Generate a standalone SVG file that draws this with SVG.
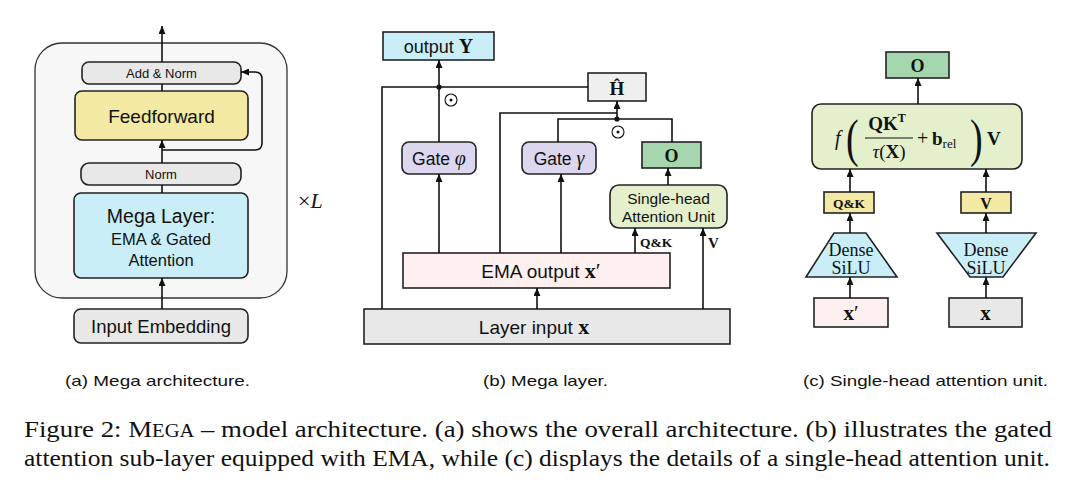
<svg xmlns="http://www.w3.org/2000/svg" width="1080" height="494" viewBox="0 0 1080 494">
<defs>
<marker id="ah" markerUnits="userSpaceOnUse" markerWidth="8" markerHeight="7" refX="8" refY="3.5" orient="auto"><path d="M0,0 L8,3.5 L0,7 z" fill="#111"/></marker>
<style>
.ln{fill:none;stroke:#111;stroke-width:1.6}
.ar{fill:none;stroke:#111;stroke-width:1.6;marker-end:url(#ah)}
.bx{stroke:#222;stroke-width:1.6}
.sans{font-family:"Liberation Sans",Arial,sans-serif;fill:#111}
.ser{font-family:"Liberation Serif","Times New Roman",serif;fill:#111}
.b{font-weight:bold}
.i{font-style:italic}
.gray{fill:#e8e8e8}
.cyan{fill:#c9eef7}
.yel{fill:#f3e9a2}
.lav{fill:#dcd7ee}
.grn{fill:#a6d6ae}
.lgr{fill:#e4f0cb}
.pink{fill:#fdf0ee}
</style>
</defs>
<rect width="1080" height="494" fill="#fff"/>

<!-- Panel (a) -->
<g id="a-frame"><rect x="35" y="43" width="252" height="255" rx="27" fill="#f7f7f7" stroke="#333" stroke-width="1.3"/></g>
<g id="a-addnorm"><rect class="bx gray" x="82" y="62" width="159" height="22" rx="7"/><text class="sans" x="161.5" y="78" font-size="13" text-anchor="middle">Add &amp; Norm</text></g>
<g id="a-ff"><rect class="bx yel" x="75" y="91" width="173" height="49" rx="7"/><text class="sans" x="161.5" y="123" font-size="19" text-anchor="middle">Feedforward</text></g>
<g id="a-norm"><rect class="bx gray" x="81" y="163" width="160" height="22" rx="8"/><text class="sans" x="161" y="179" font-size="13" text-anchor="middle">Norm</text></g>
<g id="a-mega"><rect class="bx cyan" x="74" y="193" width="174" height="85" rx="7"/>
<text class="sans" x="161" y="223" font-size="19.5" text-anchor="middle">Mega Layer:</text>
<text class="sans" x="161" y="245" font-size="16.5" text-anchor="middle">EMA &amp; Gated</text>
<text class="sans" x="161" y="266" font-size="16.5" text-anchor="middle">Attention</text></g>
<g id="a-input"><rect class="bx gray" x="74" y="309" width="174" height="34" rx="7"/><text class="sans" x="161" y="333" font-size="18.5" text-anchor="middle">Input Embedding</text></g>
<g id="a-times"><text class="ser" x="298" y="208" font-size="22"><tspan>×</tspan><tspan class="i">L</tspan></text></g>

<g id="a-connectors">
<line class="ar" x1="162" y1="62" x2="162" y2="26"/>
<line class="ar" x1="162" y1="163" x2="162" y2="140"/>
<line class="ln" x1="162" y1="193" x2="162" y2="185"/>
<line class="ln" x1="162" y1="91" x2="162" y2="84"/>
<line class="ar" x1="162" y1="309" x2="162" y2="278"/>
<path class="ar" d="M162,150 H255 Q262,150 262,143 V79 Q262,72 255,72 H241"/>
</g>

<!-- Panel (b) -->
<g id="b-output"><rect class="bx cyan" x="383" y="32" width="111" height="28"/><text x="438.5" y="52.5" font-size="18" text-anchor="middle"><tspan class="sans">output </tspan><tspan class="ser b" font-size="20">Y</tspan></text></g>
<g id="b-H"><rect class="bx" fill="#efefef" x="588" y="73" width="58" height="28"/><text class="ser b" x="617" y="95" font-size="19" text-anchor="middle">Ĥ</text></g>
<g id="b-gatephi"><rect class="bx lav" x="402" y="142" width="74" height="32" rx="7"/><text x="439" y="164.5" font-size="17.5" text-anchor="middle"><tspan class="sans">Gate </tspan><tspan class="ser i" font-size="20">φ</tspan></text></g>
<g id="b-gategamma"><rect class="bx lav" x="522" y="142" width="74" height="32" rx="7"/><text x="559" y="164.5" font-size="17.5" text-anchor="middle"><tspan class="sans">Gate </tspan><tspan class="ser i" font-size="20">γ</tspan></text></g>
<g id="b-O"><rect class="bx grn" x="642" y="142" width="59" height="26"/><text class="ser b" x="671.5" y="162" font-size="18" text-anchor="middle">O</text></g>
<g id="b-attn"><rect class="bx lgr" x="610" y="185" width="117" height="43" rx="9"/>
<text class="sans" x="668.5" y="204" font-size="15.5" text-anchor="middle">Single-head</text>
<text class="sans" x="668.5" y="221.5" font-size="15.5" text-anchor="middle">Attention Unit</text></g>
<g id="b-ema"><rect class="bx pink" x="403" y="253" width="267" height="35"/><text x="541" y="277.5" font-size="19" text-anchor="middle"><tspan class="sans">EMA output  </tspan><tspan class="ser b" font-size="22">x</tspan><tspan class="ser" font-size="22">′</tspan></text></g>
<g id="b-input"><rect class="bx gray" x="364" y="309" width="366" height="35"/><text x="534" y="333.5" font-size="19" text-anchor="middle"><tspan class="sans">Layer input </tspan><tspan class="ser b" font-size="22">x</tspan></text></g>
<g id="b-labels">
<text class="ser b" x="640" y="247" font-size="13.5">Q&amp;K</text>
<text class="ser b" x="708" y="248" font-size="15">V</text>
<circle cx="451" cy="100" r="6" fill="#fff" stroke="#111" stroke-width="1.1"/><circle cx="451" cy="100" r="1.5" fill="#111"/>
<circle cx="618" cy="132" r="6" fill="#fff" stroke="#111" stroke-width="1.1"/><circle cx="618" cy="132" r="1.5" fill="#111"/>
</g>
<g id="b-connectors">
<path class="ln" d="M382,309 V87 H588"/>
<line class="ar" x1="439" y1="142" x2="439" y2="60"/>
<circle cx="439" cy="87" r="2.6" fill="#111"/>
<path class="ln" d="M500,253 V113 H617"/>
<line class="ar" x1="617" y1="119" x2="617" y2="101"/>
<path class="ln" d="M558,142 V119 H672 V142"/>
<circle cx="617" cy="119" r="2.6" fill="#111"/>
<line class="ar" x1="439" y1="253" x2="439" y2="174"/>
<line class="ar" x1="561" y1="253" x2="561" y2="174"/>
<line class="ar" x1="668" y1="185" x2="668" y2="168"/>
<line class="ar" x1="635" y1="253" x2="635" y2="228"/>
<line class="ar" x1="703" y1="309" x2="703" y2="228"/>
<line class="ar" x1="537" y1="309" x2="537" y2="288"/>
</g>

<!-- Panel (c) -->
<g id="c-O"><rect class="bx grn" x="886" y="52" width="63" height="26"/><text class="ser b" x="917.5" y="72" font-size="18" text-anchor="middle">O</text></g>
<g id="c-formula"><rect class="bx lgr" x="812" y="104" width="210" height="65" rx="9"/>
<text class="ser i" x="835" y="145" font-size="20">f</text>
<text class="ser" x="846" y="156" font-size="38" transform="translate(846,156) scale(1,1.4) translate(-846,-156)">(</text>
<text class="ser b" x="887" y="130" font-size="19" text-anchor="middle">QK<tspan font-size="12" dy="-8">T</tspan></text>
<line x1="865" y1="138" x2="913" y2="138" stroke="#111" stroke-width="1"/>
<text x="889" y="158" font-size="19" text-anchor="middle"><tspan class="ser i">τ</tspan><tspan class="ser">(</tspan><tspan class="ser b">X</tspan><tspan class="ser">)</tspan></text>
<text class="ser" x="917" y="145" font-size="20">+</text>
<text class="ser" x="932" y="145" font-size="19"><tspan class="b">b</tspan><tspan font-size="13" dy="3">rel</tspan></text>
<text class="ser" x="970" y="156" font-size="38" transform="translate(970,156) scale(1,1.4) translate(-970,-156)">)</text>
<text class="ser b" x="987" y="145" font-size="19">V</text>
</g>
<g id="c-qk"><rect class="bx yel" x="824" y="192" width="50" height="21"/><text class="ser b" x="849" y="207.5" font-size="13.5" text-anchor="middle">Q&amp;K</text></g>
<g id="c-v"><rect class="bx yel" x="961" y="192" width="50" height="21"/><text class="ser b" x="986" y="208.5" font-size="16" text-anchor="middle">V</text></g>
<g id="c-dense1"><polygon class="bx cyan" points="834,233 866,233 897,277 806,277"/>
<text class="ser" x="851" y="256" font-size="18" text-anchor="middle">Dense</text>
<text class="ser" x="851" y="274" font-size="18" text-anchor="middle">SiLU</text></g>
<g id="c-dense2"><polygon class="bx cyan" points="937,233 1036,233 1003,277 970,277"/>
<text class="ser" x="986" y="256" font-size="18" text-anchor="middle">Dense</text>
<text class="ser" x="986" y="274" font-size="18" text-anchor="middle">SiLU</text></g>
<g id="c-xp"><rect class="bx pink" x="814" y="298" width="74" height="29"/><text class="ser b" x="851" y="320" font-size="21" text-anchor="middle">x<tspan font-weight="normal">′</tspan></text></g>
<g id="c-x"><rect class="bx gray" x="949" y="298" width="73" height="29"/><text class="ser b" x="985.5" y="320" font-size="21" text-anchor="middle">x</text></g>
<g id="c-connectors">
<line class="ar" x1="918" y1="104" x2="918" y2="78"/>
<line class="ar" x1="850" y1="192" x2="850" y2="169"/>
<line class="ar" x1="986" y1="192" x2="986" y2="169"/>
<line class="ar" x1="850" y1="233" x2="850" y2="213"/>
<line class="ar" x1="986" y1="233" x2="986" y2="213"/>
<line class="ar" x1="850" y1="298" x2="850" y2="277"/>
<line class="ar" x1="986" y1="298" x2="986" y2="277"/>
</g>

<!-- Captions -->
<g id="captions">
<text class="sans" x="65" y="386" font-size="15" textLength="185" lengthAdjust="spacingAndGlyphs">(a) Mega architecture.</text>
<text class="sans" x="483" y="386" font-size="15" textLength="125" lengthAdjust="spacingAndGlyphs">(b) Mega layer.</text>
<text class="sans" x="803" y="386" font-size="15" textLength="245" lengthAdjust="spacingAndGlyphs">(c) Single-head attention unit.</text>
<text class="ser" x="24" y="437" font-size="23.5" textLength="1028" lengthAdjust="spacingAndGlyphs">Figure 2: M<tspan font-size="18">EGA</tspan> – model architecture. (a) shows the overall architecture. (b) illustrates the gated</text>
<text class="ser" x="24" y="466" font-size="23.5" textLength="1026" lengthAdjust="spacingAndGlyphs">attention sub-layer equipped with EMA, while (c) displays the details of a single-head attention unit.</text>
</g>
</svg>
